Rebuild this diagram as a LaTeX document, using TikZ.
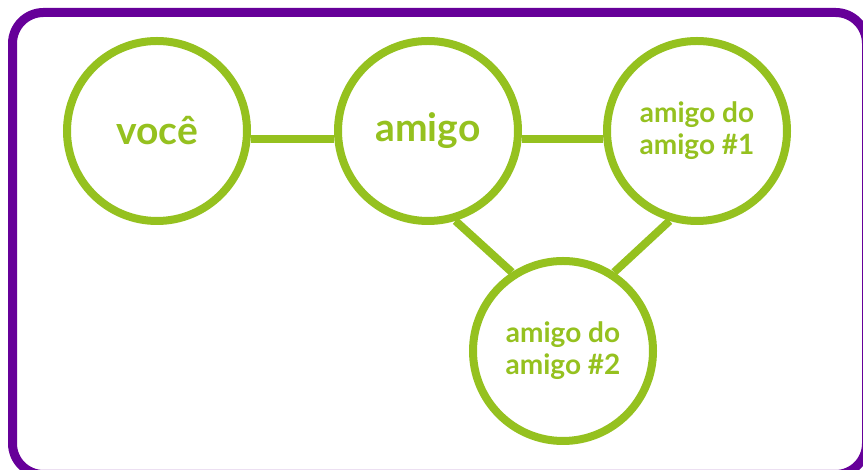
\documentclass[tikz,border=0pt]{standalone}
\usepackage{fontspec}
\setmainfont{Lato}
\definecolor{vivopurple}{HTML}{660099}
\definecolor{limegreen}{HTML}{95C11F}
\tikzset{
  friend/.style={circle, draw=limegreen, line width=8pt, fill=white,
    minimum size=180pt, inner sep=0pt, align=center, text=limegreen,
    font=\bfseries\fontsize{28}{32}\selectfont},
  bigfriend/.style={friend, font=\bfseries\fontsize{39}{42}\selectfont},
  link/.style={draw=limegreen, line width=8pt}
}
\begin{document}
\begin{tikzpicture}[x=1pt,y=1pt]
\useasboundingbox (0,0) rectangle (863,470);
\clip (0,0) rectangle (863,470);

% Frame
\draw[vivopurple, line width=9pt, rounded corners=31pt] (12.5,-4.5) rectangle (866.5,457.5);

% Circles
\node[bigfriend] (voce) at (157,339) {você};
\node[bigfriend] (amigo) at (428,339) {amigo};
\node[friend] (amigoA) at (697,339) {amigo do\\amigo \#1};
\node[friend] (amigoB) at (563,119) {amigo do\\amigo \#2};

% Links
\draw[link] (voce.-5.3) -- (amigo.185.3);
\draw[link] (amigo.-5.3) -- (amigoA.185.3);
\draw[link] (amigo.-73) -- (amigoB.123);
\draw[link] (amigoA.-107) -- (amigoB.57);
\end{tikzpicture}
\end{document}
